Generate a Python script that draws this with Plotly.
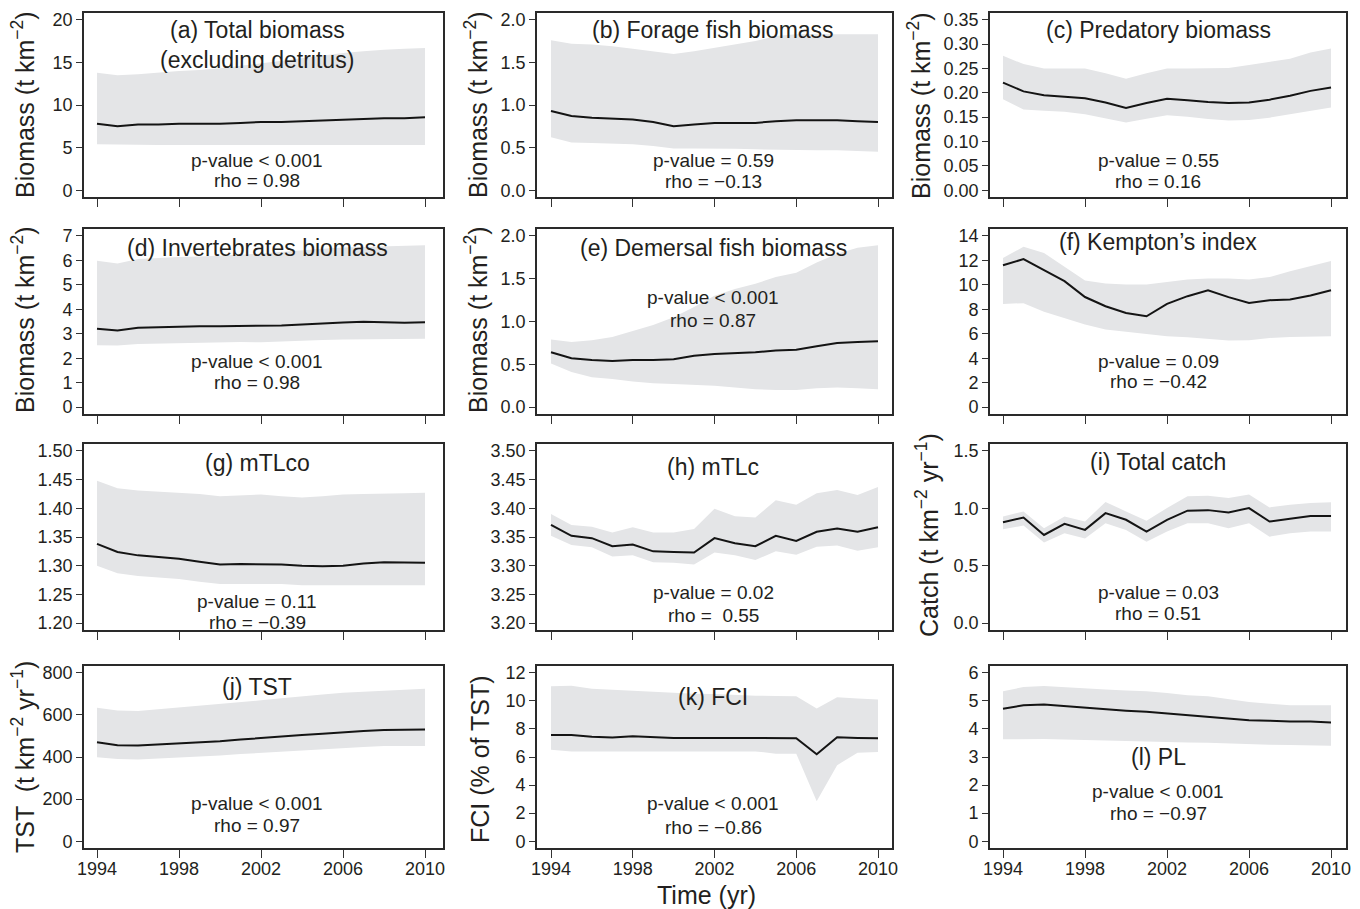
import plotly.graph_objects as go

# ---------------- data ----------------
years = list(range(1994, 2011))

a_mid = [7.8, 7.5, 7.7, 7.7, 7.8, 7.8, 7.8, 7.9, 8.0, 8.0, 8.1, 8.2, 8.3, 8.4, 8.45, 8.45, 8.55]
a_lo = [5.4, 5.35, 5.35, 5.3, 5.3, 5.3, 5.3, 5.3, 5.3, 5.3, 5.3, 5.3, 5.3, 5.3, 5.3, 5.3, 5.3]
a_hi = [13.8, 13.5, 13.6, 13.8, 14.0, 14.1, 14.3, 14.6, 14.9, 15.2, 15.5, 15.8, 16.1, 16.3, 16.5, 16.6, 16.7]

b_mid = [0.93, 0.87, 0.85, 0.84, 0.83, 0.80, 0.75, 0.77, 0.79, 0.79, 0.79, 0.81, 0.82, 0.82, 0.82, 0.81, 0.80]
b_hi = [1.76, 1.72, 1.71, 1.69, 1.66, 1.63, 1.60, 1.63, 1.67, 1.71, 1.75, 1.81, 1.83, 1.83, 1.83, 1.83, 1.83]
b_lo = [0.62, 0.56, 0.555, 0.55, 0.54, 0.52, 0.49, 0.49, 0.49, 0.485, 0.48, 0.475, 0.47, 0.47, 0.47, 0.46, 0.45]

c_mid = [0.221, 0.203, 0.195, 0.192, 0.189, 0.180, 0.169, 0.179, 0.188, 0.185, 0.181, 0.179, 0.180, 0.186, 0.194, 0.204, 0.211]
c_hi = [0.276, 0.259, 0.250, 0.250, 0.250, 0.240, 0.229, 0.240, 0.250, 0.250, 0.250, 0.251, 0.257, 0.264, 0.270, 0.283, 0.291]
c_lo = [0.187, 0.166, 0.163, 0.161, 0.156, 0.147, 0.139, 0.147, 0.154, 0.151, 0.146, 0.143, 0.144, 0.149, 0.156, 0.163, 0.170]

d_mid = [3.20, 3.13, 3.24, 3.27, 3.30, 3.31, 3.31, 3.31, 3.31, 3.34, 3.38, 3.43, 3.46, 3.49, 3.47, 3.45, 3.47]
d_hi = [5.98, 5.87, 6.05, 6.10, 6.14, 6.16, 6.18, 6.23, 6.28, 6.35, 6.42, 6.47, 6.52, 6.55, 6.58, 6.60, 6.62]
d_lo = [2.53, 2.52, 2.58, 2.60, 2.63, 2.65, 2.67, 2.66, 2.65, 2.69, 2.72, 2.74, 2.76, 2.77, 2.78, 2.79, 2.80]

e_mid = [0.64, 0.57, 0.55, 0.54, 0.55, 0.55, 0.56, 0.60, 0.62, 0.63, 0.64, 0.66, 0.67, 0.71, 0.75, 0.76, 0.77]
e_hi = [0.79, 0.76, 0.78, 0.82, 0.89, 0.96, 1.05, 1.17, 1.30, 1.38, 1.44, 1.52, 1.57, 1.69, 1.79, 1.86, 1.89]
e_lo = [0.51, 0.41, 0.35, 0.33, 0.30, 0.28, 0.27, 0.26, 0.25, 0.23, 0.21, 0.20, 0.20, 0.22, 0.23, 0.22, 0.21]

f_mid = [11.6, 12.1, 11.2, 10.3, 9.0, 8.25, 7.7, 7.43, 8.44, 9.07, 9.56, 8.99, 8.52, 8.74, 8.8, 9.13, 9.56]
f_hi = [12.2, 13.1, 12.6, 11.5, 10.35, 10.1, 10.03, 10.03, 10.25, 10.44, 10.52, 10.52, 10.44, 10.63, 11.1, 11.5, 11.95]
f_lo = [8.44, 8.5, 7.8, 7.3, 6.75, 6.34, 6.15, 5.93, 5.79, 5.71, 5.57, 5.44, 5.46, 5.66, 5.74, 5.79, 5.79]

g_mid = [1.338, 1.324, 1.318, 1.315, 1.312, 1.307, 1.302, 1.303, 1.303, 1.302, 1.300, 1.299, 1.300, 1.304, 1.306, 1.305, 1.305]
g_hi = [1.448, 1.435, 1.431, 1.429, 1.428, 1.425, 1.421, 1.422, 1.424, 1.421, 1.419, 1.421, 1.424, 1.425, 1.425, 1.426, 1.427]
g_lo = [1.300, 1.287, 1.282, 1.279, 1.277, 1.272, 1.268, 1.268, 1.268, 1.268, 1.266, 1.266, 1.266, 1.266, 1.266, 1.266, 1.266]

h_mid = [3.371, 3.352, 3.348, 3.334, 3.337, 3.325, 3.324, 3.323, 3.348, 3.339, 3.334, 3.352, 3.343, 3.359, 3.365, 3.359, 3.367]
h_hi = [3.390, 3.371, 3.368, 3.358, 3.367, 3.358, 3.358, 3.364, 3.399, 3.386, 3.384, 3.414, 3.406, 3.426, 3.432, 3.423, 3.437]
h_lo = [3.352, 3.336, 3.332, 3.316, 3.318, 3.306, 3.305, 3.302, 3.323, 3.318, 3.310, 3.325, 3.319, 3.333, 3.335, 3.326, 3.332]

i_mid = [0.879, 0.920, 0.768, 0.864, 0.812, 0.958, 0.900, 0.797, 0.900, 0.979, 0.984, 0.964, 1.002, 0.885, 0.908, 0.932, 0.932]
i_hi = [0.929, 0.973, 0.826, 0.929, 0.885, 1.055, 0.973, 0.891, 1.002, 1.105, 1.110, 1.090, 1.120, 1.008, 1.031, 1.046, 1.052]
i_lo = [0.817, 0.850, 0.703, 0.782, 0.738, 0.870, 0.812, 0.709, 0.797, 0.870, 0.870, 0.826, 0.870, 0.753, 0.782, 0.797, 0.797]

j_mid = [470, 456, 455, 460, 464, 470, 475, 483, 491, 499, 504, 510, 518, 523, 528, 531, 531]
j_hi = [634, 621, 618, 626, 634, 642, 650, 660, 669, 679, 689, 697, 705, 709, 713, 718, 724]
j_lo = [399, 391, 388, 392, 396, 402, 407, 414, 420, 426, 431, 438, 444, 448, 452, 452, 452]

k_mid = [7.57, 7.57, 7.45, 7.38, 7.48, 7.41, 7.36, 7.36, 7.36, 7.36, 7.34, 7.34, 7.34, 6.19, 7.41, 7.36, 7.34]
k_hi = [11.03, 11.07, 10.86, 10.79, 10.72, 10.63, 10.56, 10.51, 10.49, 10.42, 10.37, 10.35, 10.33, 9.46, 10.26, 10.16, 10.09]
k_lo = [6.52, 6.40, 6.40, 6.40, 6.40, 6.40, 6.40, 6.40, 6.40, 6.40, 6.40, 6.24, 6.24, 2.85, 5.42, 6.31, 6.36]

l_mid = [4.72, 4.84, 4.87, 4.81, 4.75, 4.69, 4.65, 4.61, 4.55, 4.49, 4.43, 4.37, 4.31, 4.29, 4.26, 4.26, 4.23]
l_hi = [5.34, 5.49, 5.53, 5.48, 5.43, 5.40, 5.37, 5.34, 5.28, 5.20, 5.16, 5.05, 4.96, 4.90, 4.84, 4.84, 4.84]
l_lo = [3.63, 3.64, 3.64, 3.62, 3.60, 3.59, 3.58, 3.56, 3.54, 3.52, 3.51, 3.48, 3.46, 3.44, 3.43, 3.42, 3.40]

panel_titles = ["(a) Total biomass", "(b) Forage fish biomass", "(c) Predatory biomass",
                "(d) Invertebrates biomass", "(e) Demersal fish biomass", "(f) Kempton\u2019s index",
                "(g) mTLco", "(h) mTLc", "(i) Total catch",
                "(j) TST", "(k) FCI", "(l) PL"]
p_texts = ["p-value < 0.001", "p-value = 0.59", "p-value = 0.55",
           "p-value < 0.001", "p-value < 0.001", "p-value = 0.09",
           "p-value = 0.11", "p-value = 0.02", "p-value = 0.03",
           "p-value < 0.001", "p-value < 0.001", "p-value < 0.001"]
rho_texts = ["rho = 0.98", "rho = \u22120.13", "rho = 0.16",
             "rho = 0.98", "rho = 0.87", "rho = \u22120.42",
             "rho = \u22120.39", "rho =  0.55", "rho = 0.51",
             "rho = 0.97", "rho = \u22120.86", "rho = \u22120.97"]

x_ticks = [1994, 1998, 2002, 2006, 2010]
y_ticks = [
    [0, 5, 10, 15, 20],
    [0.0, 0.5, 1.0, 1.5, 2.0],
    [0.00, 0.05, 0.10, 0.15, 0.20, 0.25, 0.30, 0.35],
    [0, 1, 2, 3, 4, 5, 6, 7],
    [0.0, 0.5, 1.0, 1.5, 2.0],
    [0, 2, 4, 6, 8, 10, 12, 14],
    [1.20, 1.25, 1.30, 1.35, 1.40, 1.45, 1.50],
    [3.20, 3.25, 3.30, 3.35, 3.40, 3.45, 3.50],
    [0.0, 0.5, 1.0, 1.5],
    [0, 200, 400, 600, 800],
    [0, 2, 4, 6, 8, 10, 12],
    [0, 1, 2, 3, 4, 5, 6],
]
y_fmt = ["d", ".1f", ".2f", "d", ".1f", "d", ".2f", ".2f", ".1f", "d", "d", "d"]

series = [(a_mid, a_lo, a_hi), (b_mid, b_lo, b_hi), (c_mid, c_lo, c_hi),
          (d_mid, d_lo, d_hi), (e_mid, e_lo, e_hi), (f_mid, f_lo, f_hi),
          (g_mid, g_lo, g_hi), (h_mid, h_lo, h_hi), (i_mid, i_lo, i_hi),
          (j_mid, j_lo, j_hi), (k_mid, k_lo, k_hi), (l_mid, l_lo, l_hi)]

# ---------------- layout geometry ----------------
# The page body has an 8px default margin: the figure starts at (8, 8) on the
# page, so it is sized to reach exactly the window's right and bottom edges.
OFF = 8
W, H = 1360 - OFF, 909 - OFF


def fx(px):
    return (px - OFF) / W


def fy(py):
    return 1 - (py - OFF) / H


col_px = [(84, 443), (537, 892), (990, 1346)]
col_xrange = [(1993.366, 2010.878), (1993.315, 2010.685), (1993.366, 2010.73)]
row_px = [(13, 197), (229, 414), (444, 630), (666, 848)]

title_y = [0.908, 0.908, 0.908, 0.897, 0.897, 0.93, 0.898, 0.876, 0.903, 0.885, 0.83, 0.50]
p_y = [0.201, 0.201, 0.201, 0.286, 0.632, 0.286, 0.151, 0.20, 0.20, 0.247, 0.242, 0.308]
rho_y = [0.087, 0.082, 0.082, 0.168, 0.508, 0.173, 0.038, 0.08, 0.091, 0.126, 0.115, 0.192]
col_text_x = [0.482, 0.496, 0.472]

TXT = "#231f20"
FONT = "Liberation Sans, Arial, Helvetica, sans-serif"
BAND = "#e4e5e7"
TICK_SIZE = 18
STAT_SIZE = 19
TITLE_SIZE = 23
AXT_SIZE = 25

fig = go.Figure()
annotations = []
layout_axes = {}


def note(text, xref, yref, x, y, size):
    return dict(text=text, xref=xref, yref=yref, x=x, y=y, showarrow=False,
                xanchor="center", yanchor="middle",
                font=dict(size=size, color=TXT, family=FONT))


for idx, (mid, lo, hi) in enumerate(series):
    r, c = divmod(idx, 3)
    n = idx + 1
    xs = "x" if n == 1 else f"x{n}"
    ys = "y" if n == 1 else f"y{n}"
    fig.add_trace(go.Scatter(x=years, y=lo, xaxis=xs, yaxis=ys, mode="lines",
                             line=dict(width=0, color=BAND), hoverinfo="skip", showlegend=False))
    fig.add_trace(go.Scatter(x=years, y=hi, xaxis=xs, yaxis=ys, mode="lines",
                             line=dict(width=0, color=BAND), fill="tonexty", fillcolor=BAND,
                             hoverinfo="skip", showlegend=False))
    fig.add_trace(go.Scatter(x=years, y=mid, xaxis=xs, yaxis=ys, mode="lines",
                             line=dict(width=2, color="#141414"), showlegend=False))

    x0, x1 = col_px[c]
    y0, y1 = row_px[r]
    yt = y_ticks[idx]
    span = yt[-1] - yt[0]
    layout_axes[f"xaxis{'' if n == 1 else n}"] = dict(
        domain=[fx(x0), fx(x1)], anchor=ys, range=list(col_xrange[c]),
        tickmode="array", tickvals=x_ticks, showticklabels=(r == 3),
        ticks="outside", ticklen=8, tickwidth=1.2, tickcolor="#333",
        ticklabelstandoff=-4,
        showline=True, mirror=True, linecolor="#2a2a2a", linewidth=1.6,
        showgrid=False, zeroline=False, automargin=False,
        tickfont=dict(size=TICK_SIZE, color=TXT, family=FONT),
    )
    layout_axes[f"yaxis{'' if n == 1 else n}"] = dict(
        domain=[fy(y1), fy(y0)], anchor=xs,
        range=[yt[0] - 0.04 * span, yt[-1] + 0.04 * span],
        tickmode="array", tickvals=yt, tickformat=y_fmt[idx],
        ticks="outside", ticklen=6, tickwidth=1.2, tickcolor="#333",
        showline=True, mirror=True, linecolor="#2a2a2a", linewidth=1.6,
        showgrid=False, zeroline=False, automargin=False,
        tickfont=dict(size=TICK_SIZE, color=TXT, family=FONT),
    )

    tx = col_text_x[c]
    xd, yd = f"{xs} domain", f"{ys} domain"
    if idx == 0:
        annotations.append(note("(a) Total biomass", xd, yd, tx, 0.908, TITLE_SIZE))
        annotations.append(note("(excluding detritus)", xd, yd, tx, 0.745, TITLE_SIZE))
    else:
        annotations.append(note(panel_titles[idx], xd, yd, tx, title_y[idx], TITLE_SIZE))
    annotations.append(note(p_texts[idx], xd, yd, tx, p_y[idx], STAT_SIZE))
    annotations.append(note(rho_texts[idx], xd, yd, tx, rho_y[idx], STAT_SIZE))

y_titles = [
    ("Biomass (t km<sup>\u22122</sup>)", 23, 105),
    ("Biomass (t km<sup>\u22122</sup>)", 476, 105),
    ("Biomass (t km<sup>\u22122</sup>)", 919, 106),
    ("Biomass (t km<sup>\u22122</sup>)", 23, 320),
    ("Biomass (t km<sup>\u22122</sup>)", 476, 320),
    ("Catch (t km<sup>\u22122</sup> yr<sup>\u22121</sup>)", 927, 535),
    ("TST  (t km<sup>\u22122</sup> yr<sup>\u22121</sup>)", 23, 757),
    ("FCI (% of TST)", 480, 759),
]
for text, px, py in y_titles:
    a = note(text, "paper", "paper", fx(px), fy(py), AXT_SIZE)
    a["textangle"] = -90
    annotations.append(a)

annotations.append(note("Time (yr)", "paper", "paper", fx(707), fy(895), AXT_SIZE))

fig.update_layout(
    width=W, height=H,
    margin=dict(l=0, r=0, t=0, b=0, autoexpand=False),
    paper_bgcolor="white", plot_bgcolor="white",
    font=dict(family=FONT, color=TXT),
    annotations=annotations,
    showlegend=False,
    **layout_axes,
)

fig.write_html("out.html")
